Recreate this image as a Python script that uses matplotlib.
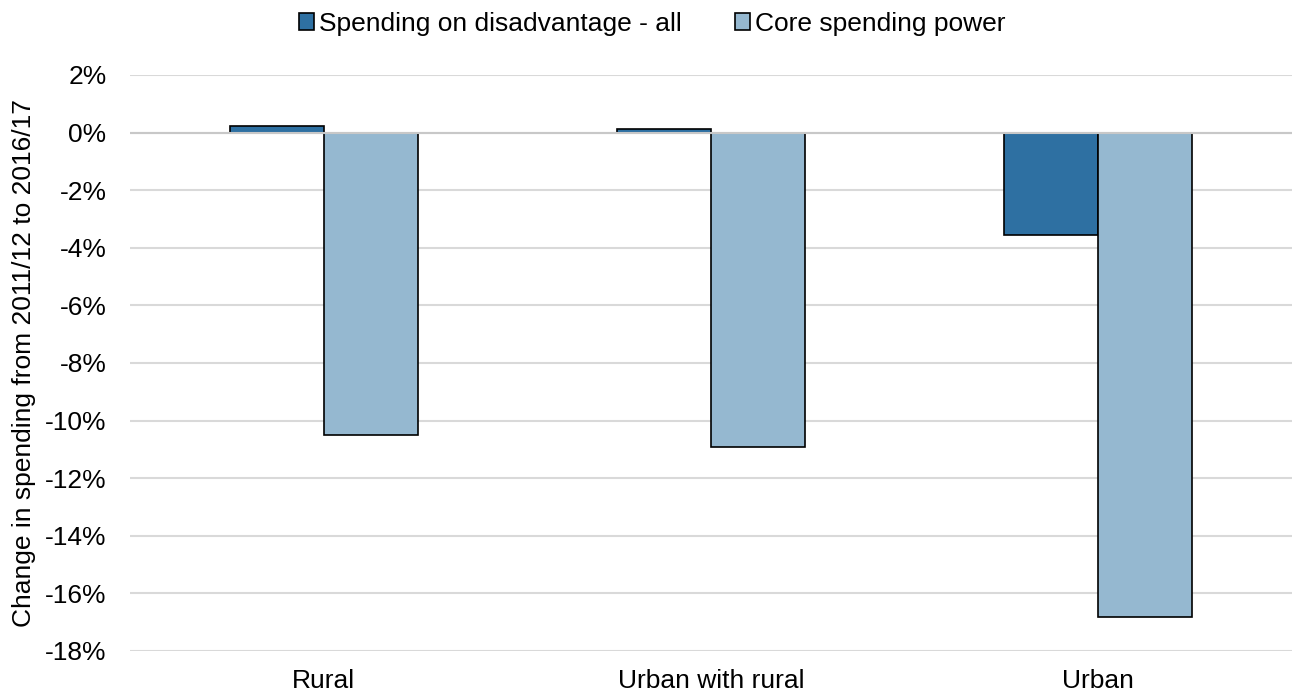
import matplotlib.pyplot as plt
import numpy as np

categories = ["Rural", "Urban with rural", "Urban"]
disadvantage = [0.24, 0.11, -3.54]
core_power = [-10.5, -10.92, -16.82]

plt.rcParams["font.family"] = ["Liberation Sans", "DejaVu Sans"]

fig = plt.figure(figsize=(12.93, 6.94), dpi=100)
ax = fig.add_axes([130 / 1293, 1 - 651 / 694, (1292 - 130) / 1293, (651 - 75) / 694])

x = np.arange(len(categories))
w = 0.243
ax.bar(x - w / 2, disadvantage, w, color="#2e70a2", edgecolor="black", linewidth=1.2,
       label="Spending on disadvantage - all", zorder=2)
ax.bar(x + w / 2, core_power, w, color="#95b8d0", edgecolor="black", linewidth=1.2,
       label="Core spending power", zorder=2)
ax.axhline(0, color="#c8c8c8", linewidth=1.5, zorder=3)

ax.set_xlim(-0.5, 2.5)
ax.set_ylim(-18, 2)
ax.set_yticks(np.arange(-18, 3, 2))
ax.set_yticklabels([f"{v}%" for v in range(-18, 3, 2)])
ax.set_xticks(x)
ax.set_xticklabels(categories)
ax.yaxis.grid(True, color="#d9d9d9", linewidth=1.5, zorder=0)
ax.set_axisbelow(True)
for s in ax.spines.values():
    s.set_visible(False)
ax.tick_params(length=0, labelsize=19, colors="black")
ax.tick_params(axis="x", pad=13)
ax.tick_params(axis="y", pad=17)
ax.set_ylabel("Change in spending from 2011/12 to 2016/17", fontsize=19, labelpad=6)

fig.legend(*ax.get_legend_handles_labels(), loc="upper center",
           bbox_to_anchor=(652 / 1293, 1.0), ncol=2, frameon=False,
           fontsize=19, handlelength=0.57, handleheight=0.57, handletextpad=0.2,
           columnspacing=2.0, borderaxespad=0.05)

fig.savefig("out.png", dpi=100)
